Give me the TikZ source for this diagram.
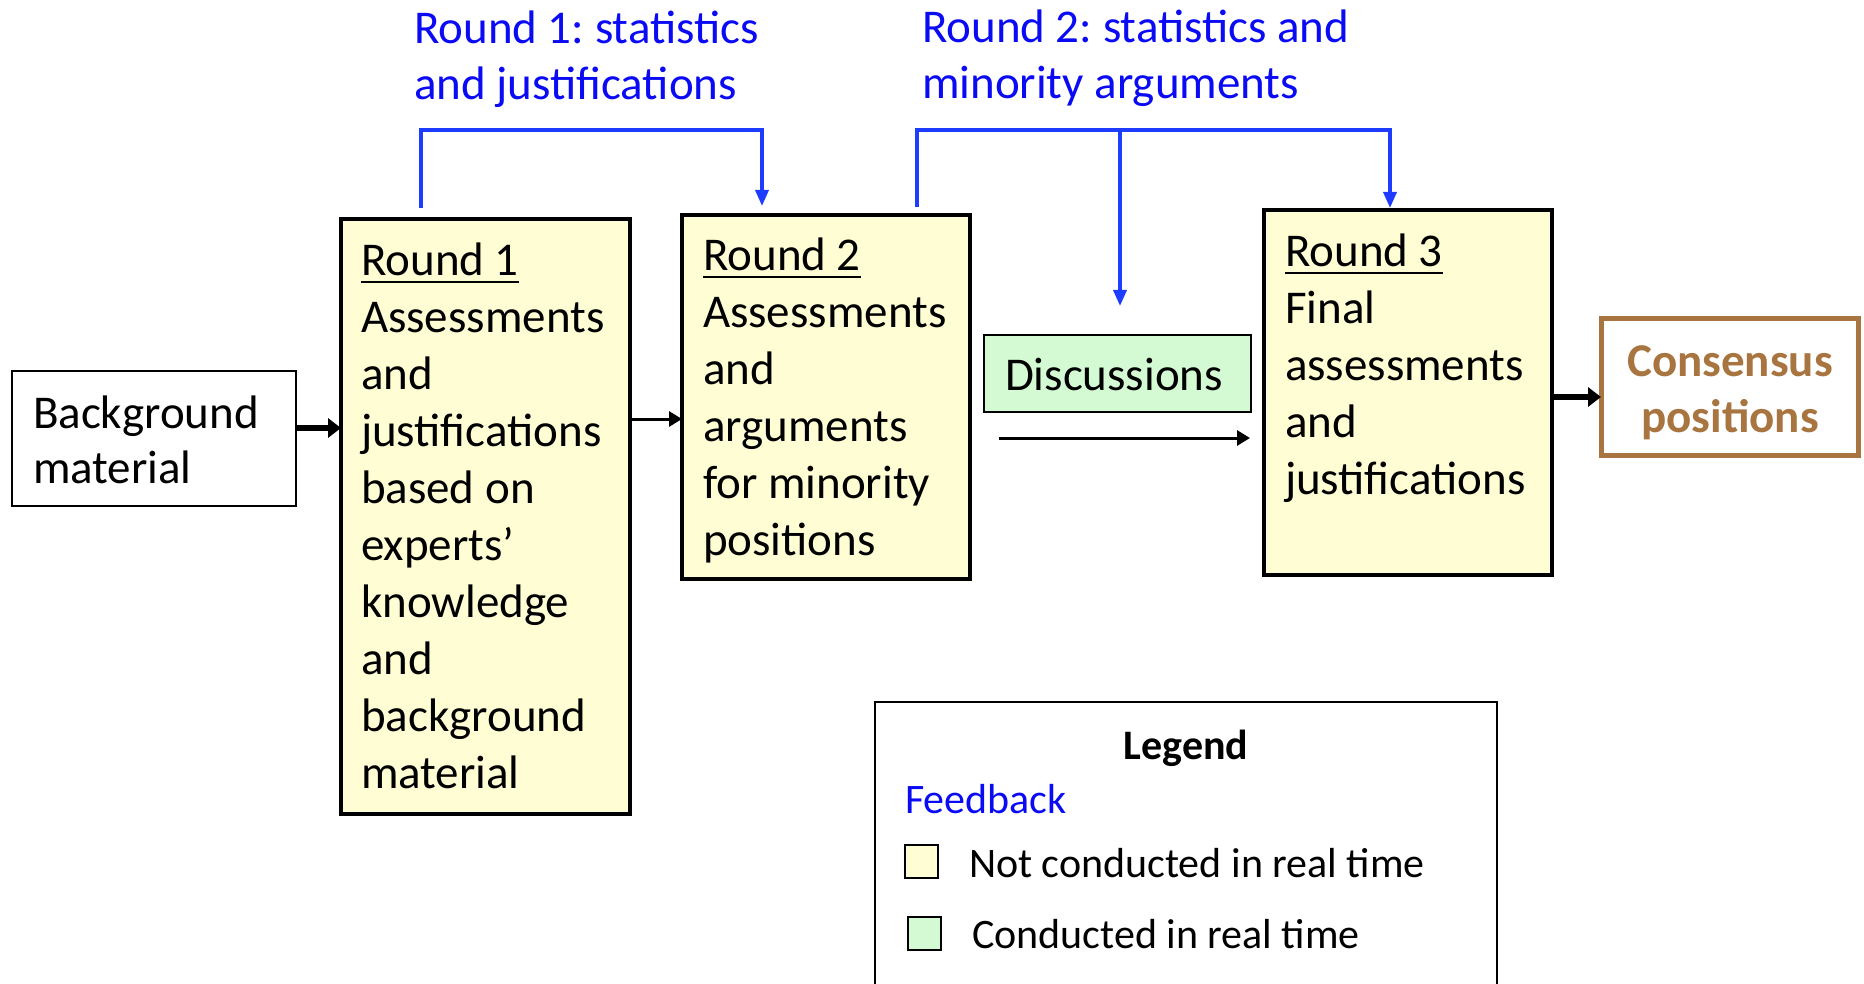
\documentclass[tikz,border=0pt]{standalone}
\usepackage{fontspec}
\setmainfont{Carlito}
\usetikzlibrary{arrows.meta,calc}
\definecolor{boxyellow}{HTML}{FFFDD4}
\definecolor{boxgreen}{HTML}{D4FAD4}
\definecolor{fbblue}{HTML}{1E3CFF}
\definecolor{txtblue}{HTML}{0A0AF5}
\definecolor{consbrown}{HTML}{A8743F}
\newcommand{\rul}[1]{\leavevmode\setbox0\hbox{#1}\rlap{\rule[-7.5pt]{\wd0}{2.5pt}}\box0}
\newcommand{\txtA}{\fontsize{47}{57}\selectfont}
\newcommand{\txtB}{\fontsize{47}{55}\selectfont}
\newcommand{\txtC}{\fontsize{47}{56}\selectfont}
\newcommand{\txtL}{\fontsize{42}{50}\selectfont}
\frenchspacing
\begin{document}
\begin{tikzpicture}[x=1pt,y=-1pt,
  box/.style={draw=black, line width=3.5pt, anchor=north west, inner sep=0pt, outer sep=0pt},
  txt/.style={anchor=base west, inner sep=0pt, outer sep=0pt},
  fb/.style={draw=fbblue, line width=3.5pt},
  fbarrow/.style={fb, -{Triangle[length=16pt,width=13pt]}},
  thickarrow/.style={line width=5.5pt, -{Triangle[length=13pt,width=19pt]}},
  thinarrow/.style={line width=3pt, -{Triangle[length=13pt,width=15pt]}},
  legsq/.style={draw=black, line width=2pt, anchor=north west, minimum width=33pt, minimum height=33pt, inner sep=0pt}
]
\useasboundingbox (0,0) rectangle (1864,984);

% boxes
\node[box, line width=2.5pt, minimum width=284pt, minimum height=135pt] (bg) at (12,371) {};
\node[box, fill=boxyellow, minimum width=289pt, minimum height=595pt] (r1) at (341,219) {};
\node[box, fill=boxyellow, minimum width=288pt, minimum height=364pt] (r2) at (682,215) {};
\node[box, fill=boxgreen, line width=2.5pt, minimum width=267pt, minimum height=77pt] (disc) at (984,335) {};
\node[box, fill=boxyellow, minimum width=288pt, minimum height=365pt] (r3) at (1264,210) {};
\node[box, draw=consbrown, line width=5pt, minimum width=257pt, minimum height=136pt] (cons) at (1601,319) {};

% texts
\node[txt, font=\txtB] (bgt) at (33,428) {\parbox[t]{260pt}{\raggedright Background\\material}};
\node[txt, font=\txtA] (r1t) at (361,276) {\parbox[t]{270pt}{\raggedright\rul{Round 1}\\Assessments\\and\\justifications\\based on\\experts’\\knowledge\\and\\background\\material}};
\node[txt, font=\txtA] (r2t) at (703,271) {\parbox[t]{270pt}{\raggedright\rul{Round 2}\\Assessments\\and\\arguments\\for minority\\positions}};
\node[txt, font=\txtA] (r3t) at (1285,267) {\parbox[t]{270pt}{\raggedright\rul{Round 3}\\Final\\assessments\\and\\justifications}};
\node[txt, font=\txtA] (disct) at (1005,390) {Discussions};
\node[anchor=base, inner sep=0pt, font=\txtB\bfseries, text=consbrown] (const) at (1730,377) {\parbox[t]{250pt}{\centering Consensus\\positions}};

% feedback labels
\node[txt, font=\txtC, text=txtblue] (fb1t) at (414,44) {\parbox[t]{400pt}{\raggedright Round 1: statistics\\and justifications}};
\node[txt, font=\txtC, text=txtblue] (fb2t) at (922,43) {\parbox[t]{500pt}{\raggedright Round 2: statistics and\\minority arguments}};

% black arrows
\coordinate (a1) at ([yshift=10.5pt]bg.east);
\draw[thickarrow] (a1) -- (a1 -| r1.west);
\coordinate (a2) at ([yshift=-22pt]r2.west);
\draw[thinarrow] (a2 -| r1.east) -- (a2);
\coordinate (a3) at ([yshift=-10pt]cons.west);
\draw[thickarrow] (a3 -| r3.east) -- (a3);
\coordinate (a4) at (999,438);
\draw[thinarrow, shorten >=14pt] (a4) -- (a4 -| r3.west);

% feedback lines
\coordinate (f1a) at (421,208);
\coordinate (f1b) at (762,206);
\draw[fbarrow] (f1a) -- ++(0,-78) -| (f1b);
\coordinate (f2a) at (917,207);
\coordinate (f2b) at (1390,208);
\coordinate (f2c) at (1120,306);
\coordinate (f2top) at (917,130);
\draw[fbarrow] (f2a) -- (f2top) -| (f2b);
\draw[fbarrow] (f2c |- f2top) -- (f2c);

% legend
\draw[line width=2pt] (875,984) -- (875,702) -- (1497,702) -- (1497,984);
\node[anchor=base, inner sep=0pt, font=\txtL\bfseries] (legt) at (1186,759) {Legend};
\node[txt, font=\txtL, text=txtblue] (legfb) at (905,813) {Feedback};
\node[legsq, fill=boxyellow] (ly) at (904,844) {};
\node[txt, font=\txtL] (lyt) at (969,877) {Not conducted in real time};
\node[legsq, fill=boxgreen] (lg) at (907,916) {};
\node[txt, font=\txtL] (lgt) at (972,948) {Conducted in real time};
\end{tikzpicture}
\end{document}
